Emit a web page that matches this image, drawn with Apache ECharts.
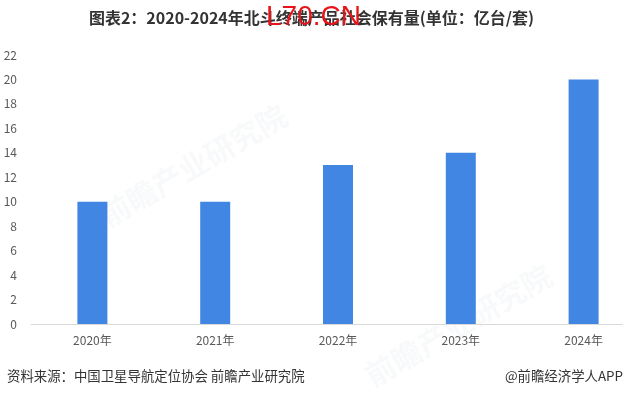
<!DOCTYPE html>
<html>
<head>
<meta charset="utf-8">
<script src="https://cdn.jsdelivr.net/npm/echarts@6/dist/echarts.min.js"></script>
<style>
html,body{margin:0;padding:0;background:#fff;}
#c{width:623px;height:398px;}
</style>
</head>
<body>
<div id="c"></div>
<script>
const categories = ['2020年','2021年','2022年','2023年','2024年'];
const values = [10, 10, 13, 14, 20];
const yTicks = [0, 2, 4, 6, 8, 10, 12, 14, 16, 18, 20, 22];
const titleText = '图表2：2020-2024年北斗终端产品社会保有量(单位：亿台/套)';
const sourceText = '资料来源：中国卫星导航定位协会 前瞻产业研究院';
const brandText = '@前瞻经济学人APP';
const stampText = 'L70.CN';

const chart = echarts.init(document.getElementById('c'), null, {renderer: 'canvas'});
const font = '"Noto Sans CJK SC", "Noto Sans", sans-serif';
chart.setOption({
  backgroundColor: '#fff',
  animation: false,
  textStyle: {fontFamily: font},
  grid: {left: 31, top: 55, width: 614, bottom: 74, containLabel: false, outerBoundsMode: 'none'},
  xAxis: {
    type: 'category',
    data: categories,
    boundaryGap: true,
    axisLine: {lineStyle: {color: '#d9d9d9', width: 1}},
    axisTick: {show: false},
    axisLabel: {color: '#595959', fontSize: 12, margin: 10, fontFamily: font}
  },
  yAxis: {
    type: 'value',
    min: yTicks[0],
    max: yTicks[yTicks.length - 1],
    interval: 2,
    axisLine: {show: false},
    axisTick: {show: false},
    splitLine: {show: false},
    axisLabel: {color: '#595959', fontSize: 12, margin: 14, fontFamily: font}
  },
  graphic: [
    {type: 'text', left: 'center', top: 10, z: 10,
     style: {text: titleText, fill: '#333', font: 'bold 16px ' + font}},
    {type: 'text', left: 266, top: 3, z: 20,
     style: {text: stampText, fill: '#e8141a', font: '28px "Liberation Sans", Arial, sans-serif'}},
    {type: 'text', left: 7, top: 369, z: 10,
     style: {text: sourceText, fill: '#333', font: '13.4px ' + font}},
    {type: 'text', right: 0, top: 369, z: 10,
     style: {text: brandText, fill: '#333', font: '13.4px ' + font}},
    {type: 'text', x: 95, y: 205, rotation: Math.PI / 6, z: -1,
     style: {text: '前瞻产业研究院', fill: 'rgba(200,205,215,0.13)', font: 'bold 30px ' + font}},
    {type: 'text', x: 360, y: 365, rotation: Math.PI / 6, z: -1,
     style: {text: '前瞻产业研究院', fill: 'rgba(200,205,215,0.13)', font: 'bold 30px ' + font}}
  ],
  series: [{
    type: 'bar',
    data: values,
    barWidth: 30,
    itemStyle: {color: '#4186e2'},
    label: {show: false}
  }]
});
</script>
</body>
</html>
